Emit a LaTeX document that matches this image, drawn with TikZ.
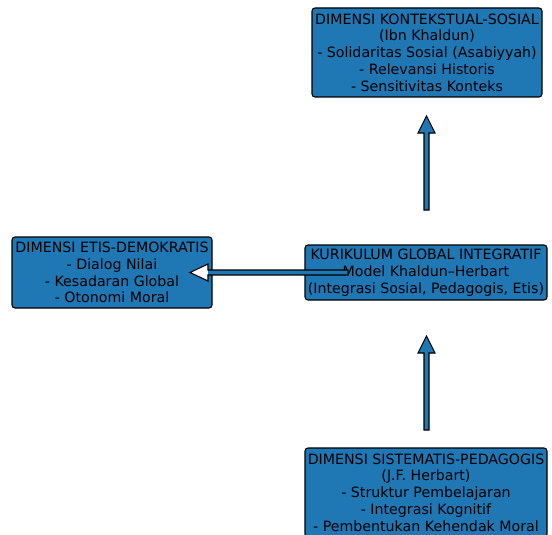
\documentclass[tikz,border=0pt]{standalone}
\usepackage{fontspec}
\setmainfont{DejaVu Sans}
\usetikzlibrary{calc}
\definecolor{tabblue}{HTML}{1F77B4}
\begin{document}
\begin{tikzpicture}[x=1pt,y=-1pt,
  dimbox/.style={draw=black, fill=tabblue, rounded corners=3pt, line width=1.1pt,
    align=center, font=\fontsize{14.2}{16.8}\selectfont, inner sep=1pt, text=black},
  arrline/.style={draw=black, line width=1.1pt, line join=miter}]
\useasboundingbox (0,0) rectangle (552,535);
\node[dimbox, minimum width=230pt, minimum height=89pt] (top) at (427,52.5)
  {DIMENSI KONTEKSTUAL-SOSIAL\\(Ibn Khaldun)\\- Solidaritas Sosial (Asabiyyah)\\- Relevansi Historis\\- Sensitivitas Konteks};
\node[dimbox, minimum width=200pt, minimum height=71pt] (left) at (112,272.5)
  {DIMENSI ETIS-DEMOKRATIS\\- Dialog Nilai\\- Kesadaran Global\\- Otonomi Moral};
\node[dimbox, minimum width=242pt, minimum height=55pt] (center) at (426,272.5)
  {KURIKULUM GLOBAL INTEGRATIF\\Model Khaldun–Herbart\\(Integrasi Sosial, Pedagogis, Etis)};
\node[dimbox, minimum width=242pt, minimum height=89pt] (bottom) at (426,492.5)
  {DIMENSI SISTEMATIS-PEDAGOGIS\\(J.F. Herbart)\\- Struktur Pembelajaran\\- Integrasi Kognitif\\- Pembentukan Kehendak Moral};
% upward arrows
\coordinate (u1tail) at (426.5,210);
\coordinate (u2tail) at (426.5,430);
\foreach \t in {u1tail,u2tail}{
  \draw[arrline, fill=tabblue] (\t) ++(-2.5,0) -- ++(0,-77) -- ++(-6,0) -- ++(8.5,-17)
    -- ++(8.5,17) -- ++(-6,0) -- ++(0,77) -- cycle;
}
% leftward arrow
\coordinate (ltail) at (348,272.5);
\coordinate (ltip) at (190,272.5);
\fill[white] (ltip) -- ++(18,-8.5) -- ++(0,17) -- cycle;
\fill[tabblue] (ltail) ++(0,-2.5) rectangle ($(ltip)+(18,2.5)$);
\draw[arrline] (ltail) ++(0,-2.5) -- ($(ltip)+(18,-2.5)$) -- ++(0,-6) -- (ltip)
  -- ++(18,8.5) -- ++(0,-6) -- ($(ltail)+(0,2.5)$) -- cycle;
\end{tikzpicture}
\end{document}
